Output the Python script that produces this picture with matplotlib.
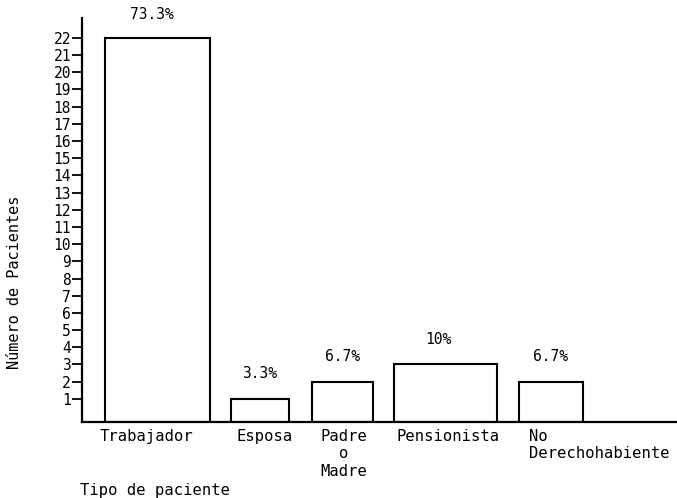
import matplotlib
matplotlib.use("Agg")
import matplotlib.pyplot as plt

categories = ["Trabajador", "Esposa", "Padre\no\nMadre", "Pensionista", "No\nDerechohabiente"]
values = [22, 1, 2, 3, 2]
percent_labels = ["73.3%", "3.3%", "6.7%", "10%", "6.7%"]
yticks = list(range(1, 23))

# layout (pixel-like x coordinates)
centers = [157.5, 260, 342.5, 445.5, 551]
widths = [105, 58, 61, 103, 64]
label_x = [100, 236, 344, 397, 529]
label_ha = ["left", "left", "center", "left", "left"]
pct_x = [152, 260, 343, 438, 550]

W, H = 677, 498
fig = plt.figure(figsize=(W / 100, H / 100), dpi=100)
ax = fig.add_axes([82 / W, 1 - 422 / H, 1 - 82 / W, (422 - 18) / H])

ymin, ymax = -0.35, 23.16
ax.set_xlim(82, 677)
ax.set_ylim(ymin, ymax)

font = "DejaVu Sans Mono"
for c, w, v in zip(centers, widths, values):
    ax.bar(c, v - ymin, bottom=ymin, width=w, facecolor="white",
           edgecolor="black", linewidth=1.5)

for x, v, t in zip(pct_x, values, percent_labels):
    yy = v + 1.45 if v < 20 else v + 1.35
    ax.text(x, yy, t, ha="center", va="center", fontsize=10.5, family=font)

for x, t, ha in zip(label_x, categories, label_ha):
    ax.text(x, ymin - 0.4, t, ha=ha, va="top", fontsize=11.2, family=font,
            multialignment="center" if ha == "center" else "left",
            linespacing=1.2, clip_on=False)

ax.set_xticks([])
ax.set_yticks(yticks)
ax.set_yticklabels([str(t) for t in yticks], family=font, fontsize=10.5)
ax.tick_params(axis="y", direction="out", length=7, width=1.3, pad=1)

for s in ["top", "right"]:
    ax.spines[s].set_visible(False)
ax.spines["left"].set_linewidth(1.6)
ax.spines["bottom"].set_linewidth(1.6)

fig.text(15 / W, 1 - 282 / H, "Número de Pacientes", rotation=90, ha="center",
         va="center", fontsize=11, family=font)
fig.text(80 / W, 1 - 490 / H, "Tipo de paciente", ha="left", va="center",
         fontsize=11.2, family=font)

fig.savefig("out.png", dpi=100)
